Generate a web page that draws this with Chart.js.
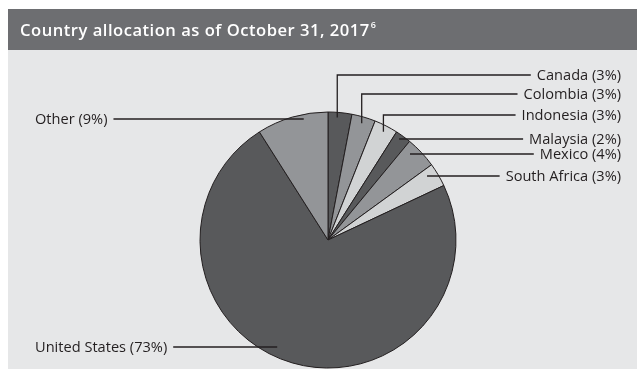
<!DOCTYPE html>
<html>
<head>
<meta charset="utf-8">
<script src="https://cdn.jsdelivr.net/npm/chart.js@4.4.0/dist/chart.umd.min.js"></script>
<style>
  html, body { margin: 0; padding: 0; background: #fff; }
  canvas { display: block; }
</style>
</head>
<body>
<canvas id="allocation" width="638" height="379"></canvas>
<script>
const countries = ['Canada', 'Colombia', 'Indonesia', 'Malaysia', 'Mexico', 'South Africa', 'United States', 'Other'];
const weights = [3, 3, 3, 2, 4, 3, 73, 9];
const shades = ['#58595b', '#939598', '#d1d3d4', '#58595b', '#939598', '#d1d3d4', '#58595b', '#939598'];

// where each callout sits: text row, side, leader style and the spot on the slice it points at
const callouts = [
  { side: 'right', y: 75,  kind: 'elbow', at: 0.40, r: 0.96 },
  { side: 'right', y: 94,  kind: 'elbow', at: 0.49, r: 0.95 },
  { side: 'right', y: 115, kind: 'elbow', at: 0.51, r: 0.95 },
  { side: 'right', y: 139, kind: 'flat',  at: 0.38 },
  { side: 'right', y: 154, kind: 'flat',  at: 0.28 },
  { side: 'right', y: 176, kind: 'flat',  at: 0.29 },
  { side: 'left',  y: 347, kind: 'flat',  at: 0.535 },
  { side: 'left',  y: 119, kind: 'flat',  at: 0.65 }
];

const INK = '#231f20';
const LABEL_FONT = '14.6px "Open Sans", sans-serif';

const panelPlugin = {
  id: 'panel',
  beforeDraw(chart) {
    const ctx = chart.ctx;
    ctx.save();
    ctx.fillStyle = '#ffffff';
    ctx.fillRect(0, 0, chart.width, chart.height);
    ctx.fillStyle = '#6d6e71';
    ctx.fillRect(8, 9, 629, 41);
    ctx.fillStyle = '#e6e7e8';
    ctx.fillRect(8, 50, 629, 319);

    ctx.fillStyle = '#ffffff';
    ctx.textBaseline = 'alphabetic';
    ctx.font = '600 16.6px "Open Sans", sans-serif';
    ctx.letterSpacing = '0.5px';
    const title = 'Country allocation as of October 31, 2017';
    ctx.fillText(title, 20, 36);
    const w = ctx.measureText(title).width;
    ctx.font = '600 9px "Open Sans", sans-serif';
    ctx.letterSpacing = '0px';
    ctx.fillText('6', 20 + w + 1, 28);
    ctx.restore();
  }
};

const calloutPlugin = {
  id: 'callouts',
  afterDraw(chart) {
    const ctx = chart.ctx;
    const arcs = chart.getDatasetMeta(0).data;
    ctx.save();
    ctx.font = LABEL_FONT;
    ctx.fillStyle = INK;
    ctx.strokeStyle = INK;
    ctx.lineWidth = 1.3;
    ctx.textBaseline = 'middle';

    callouts.forEach((c, i) => {
      const arc = arcs[i];
      const a = arc.startAngle + c.at * (arc.endAngle - arc.startAngle);
      const text = `${countries[i]} (${weights[i]}%)`;
      const tw = ctx.measureText(text).width;
      const textX = c.side === 'right' ? 621 - tw : 35;
      const lineEnd = c.side === 'right' ? textX - 6 : textX + tw + 6;

      ctx.beginPath();
      if (c.kind === 'elbow') {
        const rr = arc.outerRadius * c.r;
        const sx = arc.x + rr * Math.cos(a);
        const sy = arc.y + rr * Math.sin(a);
        ctx.moveTo(sx, sy);
        ctx.lineTo(sx, c.y);
        ctx.lineTo(lineEnd, c.y);
      } else {
        const rr = (c.y - arc.y) / Math.sin(a);
        const sx = arc.x + rr * Math.cos(a);
        ctx.moveTo(sx, c.y);
        ctx.lineTo(lineEnd, c.y);
      }
      ctx.stroke();

      ctx.textAlign = 'left';
      ctx.fillText(text, textX, c.y + 0.5);
    });
    ctx.restore();
  }
};

new Chart(document.getElementById('allocation'), {
  type: 'pie',
  data: {
    labels: countries,
    datasets: [{
      data: weights,
      backgroundColor: shades,
      borderColor: INK,
      borderWidth: 1,
      hoverOffset: 0
    }]
  },
  options: {
    responsive: false,
    animation: false,
    radius: 128,
    layout: { padding: { left: 200, right: 182, top: 112, bottom: 11 } },
    plugins: {
      legend: { display: false },
      title: { display: false },
      tooltip: { enabled: false }
    }
  },
  plugins: [panelPlugin, calloutPlugin]
});
</script>
</body>
</html>
